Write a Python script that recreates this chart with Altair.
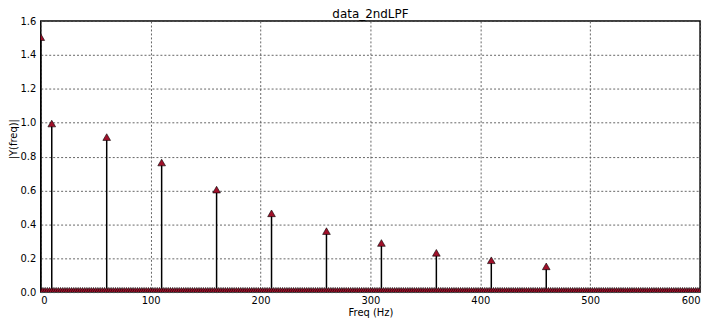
import altair as alt
import pandas as pd

peak_freqs = [0, 10, 60, 110, 160, 210, 260, 310, 360, 410, 460]
peak_mags = [1.505, 0.995, 0.915, 0.765, 0.605, 0.465, 0.36, 0.29, 0.232, 0.188, 0.152]

# remaining spectrum bins (near-zero magnitude noise floor)
zero_freqs = list(range(0, 601, 2))
zero_mags = [0.008] * len(zero_freqs)
base_level = [0.0] * len(zero_freqs)

x_ticks = [0, 100, 200, 300, 400, 500, 600]
y_ticks = [0, 0.2, 0.4, 0.6, 0.8, 1.0, 1.2, 1.4, 1.6]
title_text = "data_2ndLPF"

peaks = pd.DataFrame({"freq": peak_freqs, "mag": peak_mags})
zeros = pd.DataFrame({"freq": zero_freqs, "mag": zero_mags})
basedf = pd.DataFrame({"freq": zero_freqs, "mag": base_level})
allpts = pd.concat([zeros, peaks], ignore_index=True)

W, H = 664, 273

xscale = alt.Scale(domain=[0, 600], nice=False, zero=False)
yscale = alt.Scale(domain=[0, 1.6], nice=False)

xax = alt.Axis(values=x_ticks, grid=True, gridDash=[2, 2],
               gridColor="#555555", gridOpacity=0.9, ticks=False, domain=False,
               labelFont="DejaVu Sans", labelFontSize=10, labelColor="black",
               titleFont="DejaVu Sans", titleFontSize=10, titleFontWeight="normal",
               titleColor="black", title="Freq (Hz)", labelPadding=3, titlePadding=3,
               labelOverlap=False)
yax = alt.Axis(values=y_ticks, format=".1f",
               grid=True, gridDash=[2, 2], gridColor="#555555", gridOpacity=0.9,
               ticks=False, domain=False,
               labelFont="DejaVu Sans", labelFontSize=10, labelColor="black",
               titleFont="DejaVu Sans", titleFontSize=10, titleFontWeight="normal",
               titleColor="black", title="|Y(freq)|", labelPadding=5,
               titleX=-27, titleY=H / 2 - 18, titleBaseline="middle", titleAngle=270,
               labelOverlap=False)

X = alt.X("freq:Q", scale=xscale, axis=xax)
Y = alt.Y("mag:Q", scale=yscale, axis=yax)

stems = alt.Chart(peaks).mark_rule(color="black", strokeWidth=1.5).encode(
    x=X, y=Y, y2=alt.datum(0),
)

baseline = alt.Chart(basedf).mark_line(color="#b00000", strokeWidth=1.5, clip=True).encode(
    x=X, y=Y,
)

markers = alt.Chart(allpts).mark_point(
    shape="triangle-up", filled=True, fill="#a0102a", stroke="black",
    strokeWidth=0.6, size=60, opacity=1, clip=True
).encode(x=X, y=Y)

title = alt.Chart(pd.DataFrame({"t": [title_text]})).mark_text(
    font="DejaVu Sans", fontSize=12, color="black", align="center",
    baseline="alphabetic"
).encode(text="t:N", x=alt.value(W / 2), y=alt.value(-3))

chart = alt.layer(stems, baseline, markers, title).properties(
    width=W, height=H,
    autosize=alt.AutoSizeParams(type="none"),
    padding={"left": 33, "top": 12, "right": 12, "bottom": 32},
).configure_view(stroke="black", strokeWidth=1.5)

chart.save("out.html", embed_options={"renderer": "svg", "actions": False})
